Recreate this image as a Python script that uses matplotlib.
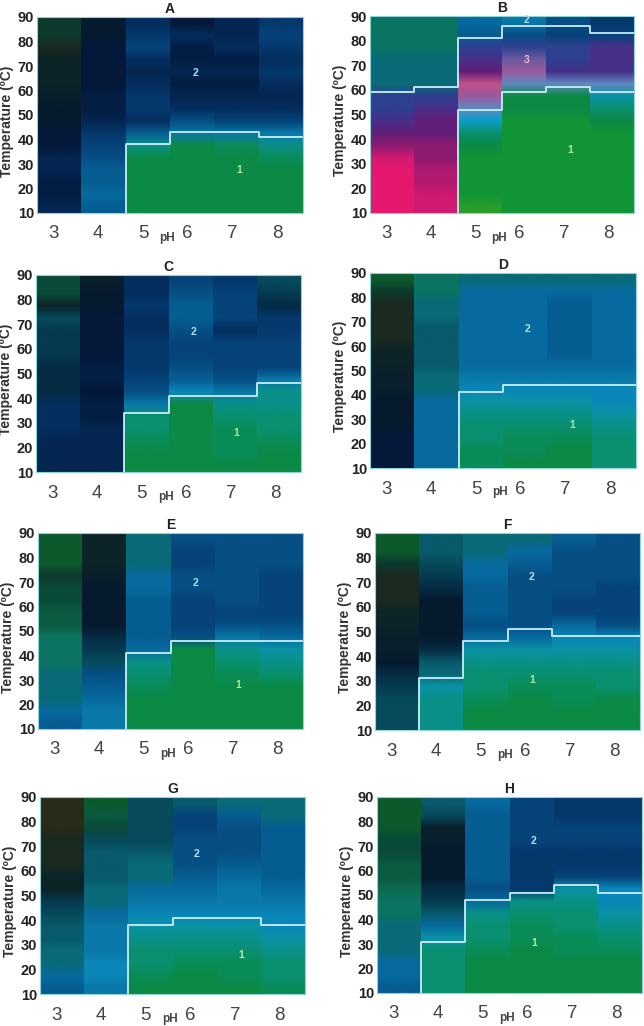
import matplotlib
matplotlib.use("Agg")
import numpy as np
import matplotlib.pyplot as plt
from matplotlib.colors import to_rgb

plt.rcParams['font.family'] = ['Liberation Sans', 'DejaVu Sans']

PALETTE = {
    'G': '#0b8a45', 'H': '#119535', 'I': '#2a9c2a', 'J': '#0a8c58', 'K': '#0a9070',
    'L': '#0a9088', 'M': '#0a92a5', 'N': '#0a9ec8', 'O': '#0a86b8',
    'a': '#0a78a8', 'b': '#076a9e', 'c': '#065d92', 'd': '#064f85', 'e': '#05437a',
    'f': '#05386c', 'g': '#042e5e', 'h': '#042650', 'i': '#031e44', 'j': '#04183a',
    'k': '#061a2e', 'l': '#0a1f2c', 'm': '#0c2428', 'n': '#1a2a20', 'o': '#0d3a2e',
    'p': '#0a4a38', 'q': '#0b5a42', 'r': '#0c6a50', 's': '#0b7460', 't': '#0a6a78',
    'u': '#085a6c', 'v': '#074a5c', 'w': '#063a50', 'x': '#052c44', 'y': '#0c5a2c',
    'z': '#2a2a18',
    'P': '#e6186e', 'Q': '#d01a70', 'R': '#b01a70', 'S': '#8c1a70', 'T': '#621e78',
    'U': '#46308a', 'V': '#2e4090', 'W': '#6a5aa0', 'X': '#9a5a9c', 'Y': '#c05088',
    'Z': '#6088c0',
}

PH = [3, 4, 5, 6, 7, 8]
TEMPERATURE_TICKS = [10, 20, 30, 40, 50, 60, 70, 80, 90]

# One string per pH column; one colour class per 5 degC row, from 90 down to 10.
PANEL_A = ["oonmmmlkkjjhhiih", "kkjjjjiihfedccbc", "gfeghgffgcLGGGGG",
           "jgiihihgdaGGGGGG", "hhgihihgeaJGGGGG", "fefgfghgeaLJGGGG"]
PANEL_B = ["ssstttVVUTSQPPPP", "ssstttVUTTSSRRQQ", "bcVUTYXZNKGHHHHI",
           "adVWXZGGHHHHHHHH", "deVVUZGGHHHHHHHH", "feUUUZMKGHHHHHHH"]
PANEL_C = ["ppmvwwwxxxggghhh", "lkkjjjjiijiihhhh", "ggfggfffedaKKJGG",
           "edccdeedcOGGGGGG", "feeegeeedaLKJJJG", "vwxffeeeaLLKKJGG"]
PANEL_D = ["yonnnnmmllkkkjjj", "ssttuuuuttbbbbbb", "tbbbbbbbaOMLKKJJ",
           "tbbbbbbbaOMLKJJG", "tbcccccbaOMLKJGG", "tbbbbbbbaOOMLKKK"]
PANEL_E = ["yyyoppqqssstttbc", "mmmlkkkkxwvdcbaa", "tttbbccccbLKJGGG",
           "deeddeeedGGGGGGG", "ddddddedaLKJGGGG", "dddeeeedbMLKGGGG"]
PANEL_F = ["yyonnnmmllkxwvvv", "uuvwxkkkkxutMLLL", "ttbbcccdbMLKKJGG",
           "tbcdddddbMLKJGGG", "cddddeebOMLKJJGG", "ddddeeedOMLKKGGG"]
PANEL_G = ["zzznnnmmwvuuttbc", "yqpvuuuttbaaaOOa", "vvvvuttbaOMLKKJG",
           "ueedddcbaOMLKJGG", "tcdddcbaaOMLKJJG", "ttcccccbaOOMLKKJ"]
PANEL_H = ["yyyppqqrsstttbbc", "uvllkkkxwubMKKKK", "bccccccdbLKKJGGG",
           "eeeeffffLKJJGGGG", "ffeeffeMLKKJJGGG", "ffeeffeOOMLKJGGG"]

# Region boundaries per pH column (degC); None = region absent at that pH.
LOWER_A = [None, None, 38, 43, 43, 41]
LOWER_B = [None, None, 52, 59, 61, 59]
UPPER_B = [59, 61, 81, 86, 86, 83]
LOWER_C = [None, None, 34, 41, 41, 46]
LOWER_D = [None, None, 41, 44, 44, 44]
LOWER_E = [None, None, 41, 46, 46, 46]
LOWER_F = [None, 31, 46, 51, 48, 48]
LOWER_G = [None, None, 38, 41, 41, 38]
LOWER_H = [None, 31, 48, 51, 54, 51]

PANELS = [
    ('A', PANEL_A, [LOWER_A], (37, 303, 17, 213), [('2', 6.07, 67), ('1', 7.06, 27.5)]),
    ('B', PANEL_B, [LOWER_B, UPPER_B], (370, 634, 16, 213), [('2', 6.05, 88.5), ('3', 6.05, 72), ('1', 7.05, 35.5)]),
    ('C', PANEL_C, [LOWER_C], (36, 301, 275, 472), [('2', 6.07, 67), ('1', 7.04, 26)]),
    ('D', PANEL_D, [LOWER_D], (370, 636, 273, 468), [('2', 6.06, 67), ('1', 7.06, 27.5)]),
    ('E', PANEL_E, [LOWER_E], (38, 303, 533, 729), [('2', 6.07, 69.5), ('1', 7.04, 28)]),
    ('F', PANEL_F, [LOWER_F], (375, 640, 533, 730), [('2', 6.05, 72), ('1', 6.05, 30.5)]),
    ('G', PANEL_G, [LOWER_G], (40, 305, 797, 994), [('2', 6.05, 67), ('1', 7.05, 26)]),
    ('H', PANEL_H, [LOWER_H], (377, 642, 797, 993), [('2', 6.05, 72), ('1', 6.05, 30.5)]),
]
LABEL_COLOURS = {'1': '#b5e6a0', '2': '#b5e0f5', '3': '#e8b8dc'}
W, H = 644, 1026

x_edges = np.arange(PH[0] - 0.5, PH[-1] + 1)
fig = plt.figure(figsize=(W / 100, H / 100), dpi=100, facecolor='white')


def boundary_path(levels):
    xs, ys = [], []
    for i, level in enumerate(levels):
        if level is None:
            continue
        if not xs:
            xs.append(x_edges[i])
            ys.append(10)
        xs += [x_edges[i], x_edges[i + 1]]
        ys += [level, level]
    return xs, ys


for name, columns, bounds, (left, right, top, bottom), labels in PANELS:
    ax = fig.add_axes([left / W, 1 - bottom / H, (right - left) / W, (bottom - top) / H])
    for c, column in enumerate(columns):
        rgb = np.array([[to_rgb(PALETTE[k])] * 2 for k in column])
        ax.imshow(rgb, extent=(x_edges[c], x_edges[c + 1], 10, 90), origin='upper',
                  aspect='auto', interpolation='bilinear')
    for levels in bounds:
        xs, ys = boundary_path(levels)
        ax.plot(xs, ys, color='#c8eef5', lw=1.3, solid_joinstyle='round')
    for text, x, y in labels:
        ax.text(x, y, text, color=LABEL_COLOURS[text], fontsize=7.5, fontweight='bold',
                ha='center', va='center')
    ax.set_xlim(x_edges[0], x_edges[-1])
    ax.set_ylim(10, 90)
    ax.set_yticks(TEMPERATURE_TICKS)
    ax.tick_params(axis='y', length=0, pad=2, labelsize=10.5, labelcolor='#222222')
    for t in ax.get_yticklabels():
        t.set_fontweight('bold')
    # The printed labels sit slightly left of the column centres.
    ax.set_xticks([p - 0.13 + 0.01 * i for i, p in enumerate(PH)])
    ax.set_xticklabels([str(p) for p in PH])
    ax.tick_params(axis='x', length=0, pad=9, labelsize=13.5, labelcolor='#444444')
    ax.set_ylabel('Temperature (ºC)', fontsize=10, fontweight='bold', color='#333333', va='center')
    ax.yaxis.set_label_coords(-0.113, 0.47)
    ax.text(0.49, -0.125, 'pH', transform=ax.transAxes, fontsize=8.5, fontweight='bold',
            color='#444444', ha='center', va='center')
    ax.set_title(name, fontsize=10, fontweight='bold', color='#222222', pad=3)
    for spine in ax.spines.values():
        spine.set_color('#8fd3d6')
        spine.set_linewidth(0.8)

fig.savefig('out.png', dpi=100)
